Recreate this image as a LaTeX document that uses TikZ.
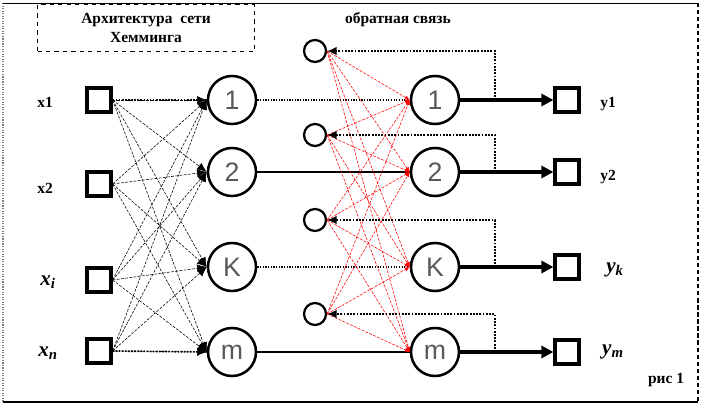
\documentclass[tikz,border=0pt]{standalone}
\usepackage{fontspec}
\setmainfont{Liberation Serif}
\newfontfamily\handfont{Liberation Sans}
\usetikzlibrary{arrows.meta}

\tikzset{
  inbox/.style={draw, line width=2.8pt, minimum size=0.58cm, inner sep=0pt},
  neuron/.style={circle, draw, line width=1.8pt, minimum size=1.2cm, inner sep=0pt,
    text=gray!70!black, font=\handfont\fontsize{19}{19}\selectfont},
  fbnode/.style={circle, draw, line width=1.6pt, minimum size=0.55cm, inner sep=0pt},
  lbl/.style={font=\bfseries\fontsize{11}{13}\selectfont},
  mlbl/.style={font=\bfseries\itshape\fontsize{15}{15}\selectfont},
  fan/.style={dash pattern=on 2pt off 1pt, line width=0.4pt, -{Latex[length=2.4mm,width=2mm]}},
  redfan/.style={red, dash pattern=on 2pt off 1pt, line width=0.4pt, -{Latex[length=1.2mm,width=1mm]}},
  outarrow/.style={line width=2.6pt, -{Triangle[length=3mm,width=3mm]}},
  feedback/.style={densely dotted, line width=1.3pt, -{Latex[length=2.4mm,width=2.2mm]}}
}

\begin{document}
\begin{tikzpicture}[x=0.025cm, y=-0.025cm]
    \useasboundingbox (0,0) rectangle (701,405);

    % Frame
    \draw[gray, densely dotted, line width=0.8pt] (3,3) -- (3,402);
    \draw[line width=0.6pt] (3,3) -- (698,3);
    \draw[densely dashed, line width=0.9pt] (698,3) -- (698,402);
    \draw[line width=0.8pt] (3,402) -- (698,402);

    % Titles
    \node[draw, dash pattern=on 3pt off 3pt, line width=1.2pt, minimum width=5.42cm,
      minimum height=1.17cm, align=center, lbl] (title) at (146,28)
      {Архитектура\ \ сети\\Хемминга};
    \node[lbl] (fbtitle) at (398,20) {обратная связь};

    % Inputs
    \node[inbox] (in1) at (99,100) {};
    \node[inbox] (in2) at (99,184) {};
    \node[inbox] (ini) at (99,280) {};
    \node[inbox] (inn) at (99,351) {};
    \node[lbl] (lx1) at (45,102) {x1};
    \node[lbl] (lx2) at (45,188) {x2};
    \node[mlbl] (lxi) at (48,282) {x\textsubscript{i}};
    \node[mlbl] (lxn) at (48,353) {x\textsubscript{n}};

    % First layer
    \node[neuron] (a1) at (232,100) {1};
    \node[neuron] (a2) at (232,172) {2};
    \node[neuron] (ak) at (232,267) {K};
    \node[neuron] (am) at (232,352) {m};

    % Feedback neurons
    \node[fbnode] (f1) at (315,51) {};
    \node[fbnode] (f2) at (315,135) {};
    \node[fbnode] (f3) at (315,220) {};
    \node[fbnode] (f4) at (315,314) {};

    % Second layer
    \node[neuron] (b1) at (435,100) {1};
    \node[neuron] (b2) at (435,172) {2};
    \node[neuron] (bk) at (435,267) {K};
    \node[neuron] (bm) at (435,352) {m};

    % Outputs
    \node[inbox] (o1) at (567,100) {};
    \node[inbox] (o2) at (567,172) {};
    \node[inbox] (ok) at (567,267) {};
    \node[inbox] (om) at (567,352) {};
    \node[lbl] (ly1) at (608,104) {y1};
    \node[lbl] (ly2) at (608,177) {y2};
    \node[mlbl] (lyk) at (615,270) {y\textsubscript{k}};
    \node[mlbl] (lym) at (613,352) {y\textsubscript{m}};
    \node[lbl] (fig) at (666,380) {рис 1};

    % Inputs to first layer
    \foreach \i in {in1,in2,ini,inn}
      \foreach \j in {a1,a2,ak,am}
        \draw[fan] (\i.east) -- (\j.west);
    \draw[densely dotted, line width=1.2pt] (in1.east) -- (a1.west);
    \draw[densely dotted, line width=1.2pt] (inn.east) -- (am.west);

    % First layer to second layer
    \draw[densely dotted, line width=0.9pt] (a1) -- (b1);
    \draw[line width=0.9pt] (a2) -- (b2);
    \draw[densely dotted, line width=0.9pt] (ak) -- (bk);
    \draw[line width=1.2pt] (am) -- (bm);

    % Lateral links
    \foreach \i in {f1,f2,f3,f4}
      \foreach \j in {b1,b2,bk,bm}
        \draw[redfan] (\i.east) -- (\j.west);

    % Outputs and feedback
    \draw[outarrow] (b1) -- (o1);
    \draw[outarrow] (b2) -- (o2);
    \draw[outarrow] (bk) -- (ok);
    \draw[outarrow] (bm) -- (om);
    \coordinate (t1) at (495,100);
    \coordinate (t2) at (495,172);
    \coordinate (t3) at (495,267);
    \coordinate (t4) at (495,352);
    \draw[feedback] (t1) |- (f1.east);
    \draw[feedback] (t2) |- (f2.east);
    \draw[feedback] (t3) |- (f3.east);
    \draw[feedback] (t4) |- (f4.east);

\end{tikzpicture}
\end{document}
